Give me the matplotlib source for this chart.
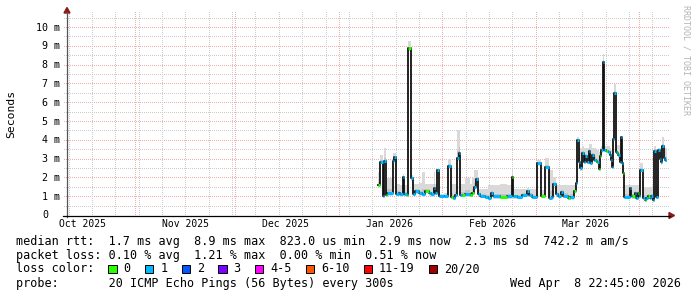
import matplotlib
matplotlib.use('Agg')
import matplotlib.pyplot as plt
import numpy as np
from datetime import date, timedelta
from matplotlib.transforms import Affine2D
from matplotlib.patches import Rectangle, Polygon
from matplotlib.lines import Line2D
from matplotlib.colors import to_rgba

W, H = 697, 297
REF = date(2026, 1, 1)          # day 0 of the x data
X_START, X_END = -81.7, 98.3    # visible range, days relative to REF
DATA_END = 98.3
Y_MAX = 10.64                   # ms

# ---- data (days since 2026-01-01, median rtt in ms, lost pings, smoke top in ms)
day = [11.6, 12.3, 13.1, 13.5, 13.9, 14.4, 16.0, 16.4, 17.0, 17.8, 18.3, 19.0, 19.4, 20.2,
       20.6, 21.4, 22.0, 22.8, 23.8, 24.8, 25.8, 26.8, 27.6, 28.3, 28.8, 29.4, 30.0, 31.3,
       32.6, 33.4, 34.2, 34.8, 35.4, 36.0, 36.3, 36.8, 37.8, 39.3, 39.7, 40.4, 40.9, 41.7,
       42.2, 43.7, 44.7, 45.4, 46.2, 48.2, 50.2, 51.7, 52.2, 53.2, 54.7, 56.2, 57.0, 57.7,
       59.2, 60.5, 61.7, 62.8, 63.7, 64.2, 65.0, 65.7, 66.4, 67.2, 68.7, 69.1, 70.4, 71.1,
       71.4, 71.9, 72.3, 72.9, 73.4, 73.8, 74.3, 74.8, 75.3, 75.8, 76.3, 76.9, 77.4, 77.8,
       78.3, 78.6, 79.0, 79.4, 80.1, 80.6, 81.1, 81.4, 81.7, 82.0, 82.3, 82.9, 83.2, 83.6,
       84.1, 84.6, 84.8, 85.1, 85.3, 87.1, 87.4, 87.8, 88.6, 89.1, 89.6, 89.9, 90.3, 91.1,
       91.6, 92.1, 92.6, 93.1, 93.6, 94.1, 94.4, 95.1, 95.6, 96.2, 96.6, 96.9, 97.4, 97.8]
median_ms = [1.62, 2.86, 1.05, 2.90, 1.10, 1.18, 2.90, 3.11, 1.15, 1.20, 1.12, 2.06, 1.15, 1.10,
             8.89, 1.98, 1.15, 1.28, 1.18, 1.12, 1.30, 1.18, 1.12, 1.45, 1.20, 2.42, 1.05, 1.05,
             2.62, 1.00, 0.92, 1.10, 3.04, 3.31, 1.10, 1.08, 1.12, 1.10, 1.20, 1.53, 1.95, 1.15,
             1.05, 1.00, 0.95, 1.20, 1.02, 0.98, 1.02, 2.06, 1.02, 0.98, 1.10, 1.30, 1.10, 1.00,
             2.78, 1.05, 2.60, 0.93, 1.00, 1.68, 1.15, 1.05, 1.25, 1.05, 0.95, 0.97, 1.30, 1.75,
             4.02, 2.86, 2.51, 3.31, 2.84, 3.15, 2.84, 3.42, 2.80, 3.20, 2.95, 2.92, 2.87, 2.50,
             3.17, 3.47, 8.15, 3.50, 3.45, 3.40, 3.20, 2.95, 2.60, 4.05, 6.53, 3.40, 3.30, 3.20,
             2.84, 4.16, 2.78, 2.25, 1.00, 1.45, 1.05, 1.02, 1.18, 0.95, 1.20, 1.02, 2.42, 0.95,
             0.85, 0.95, 1.02, 0.95, 1.02, 0.85, 3.45, 1.00, 3.50, 3.00, 2.82, 3.70, 3.05, 2.95]
loss = [0, 1, 1, 1, 0, 1, 1, 1, 1, 1, 1, 1, 1, 0,
        0, 1, 1, 1, 1, 1, 0, 1, 1, 1, 1, 1, 1, 1,
        1, 0, 1, 1, 1, 1, 1, 0, 1, 0, 0, 1, 1, 1,
        1, 1, 1, 1, 1, 0, 1, 0, 1, 1, 1, 1, 1, 1,
        1, 0, 1, 1, 1, 1, 1, 1, 1, 1, 0, 1, 0, 1,
        1, 1, 1, 1, 1, 1, 1, 1, 1, 1, 1, 0, 1, 0,
        0, 1, 1, 1, 0, 1, 1, 1, 1, 1, 1, 1, 0, 1,
        1, 1, 1, 0, 1, 1, 1, 0, 1, 1, 0, 1, 1, 1,
        0, 1, 0, 1, 1, 1, 1, 1, 1, 1, 1, 1, 1, 1]
smoke_hi_ms = [2.3, 3.2, 2.5, 3.6, 2.0, 2.0, 3.3, 3.35, 1.7, 1.7, 1.6, 2.2, 1.6, 1.6,
               9.28, 2.15, 1.7, 1.7, 1.75, 2.3, 1.7, 1.7, 1.7, 2.3, 1.7, 2.5, 1.15, 1.2,
               3.0, 1.7, 1.7, 1.7, 4.55, 4.55, 1.7, 1.7, 2.0, 1.7, 2.0, 2.4, 2.4, 1.4,
               1.4, 1.4, 1.6, 1.6, 1.6, 1.7, 1.6, 2.45, 1.4, 1.4, 1.4, 1.45, 1.4, 1.4,
               2.95, 1.35, 3.05, 2.4, 2.4, 2.05, 1.6, 1.6, 1.6, 1.6, 1.6, 1.6, 1.6, 1.9,
               4.2, 3.7, 3.6, 3.7, 3.6, 3.6, 3.6, 3.8, 3.8, 3.6, 3.6, 3.5, 3.5, 3.4,
               3.6, 3.7, 8.6, 3.7, 3.7, 3.7, 3.6, 3.5, 3.5, 4.3, 6.98, 3.75, 3.75, 3.75,
               3.6, 4.2, 3.4, 2.8, 1.6, 1.6, 1.6, 1.6, 1.6, 1.6, 1.6, 1.6, 2.8, 1.5,
               1.5, 1.5, 1.5, 1.5, 1.5, 1.5, 3.7, 1.6, 3.6, 3.6, 3.6, 4.2, 3.6, 3.6]

loss_labels = ['0', '1', '2', '3', '4-5', '6-10', '11-19', '20/20']
loss_colors = ['#26ff00', '#00b8ff', '#0059ff', '#7e00ff', '#ff00ff', '#ff5500', '#ff0000', '#a00000']

y_ticks = [0, 1, 2, 3, 4, 5, 6, 7, 8, 9, 10]
y_tick_labels = ['0', '1 m', '2 m', '3 m', '4 m', '5 m', '6 m', '7 m', '8 m', '9 m', '10 m']
month_starts = [date(2025, 10, 1), date(2025, 11, 1), date(2025, 12, 1), date(2026, 1, 1),
                date(2026, 2, 1), date(2026, 3, 1), date(2026, 4, 1)]
month_labels = ['Oct 2025', 'Nov 2025', 'Dec 2025', 'Jan 2026', 'Feb 2026', 'Mar 2026', 'Apr 2026']

stats_line = "median rtt:  1.7 ms avg  8.9 ms max  823.0 us min  2.9 ms now  2.3 ms sd  742.2 m am/s"
loss_line = "packet loss: 0.10 % avg  1.21 % max  0.00 % min  0.51 % now"
loss_title = "loss color:"
probe_line = "probe:       20 ICMP Echo Pings (56 Bytes) every 300s"
date_line = "Wed Apr  8 22:45:00 2026"
y_title = "Seconds"
watermark = "RRDTOOL / TOBI OETIKER"

# ---- figure
MONO = 'DejaVu Sans Mono'
fig = plt.figure(figsize=(W / 100, H / 100), dpi=100)
pix = Affine2D().scale(1 / W, -1 / H).translate(0, 1) + fig.transFigure

L, R, T, B = 67, 667, 15.5, 215.5
ax = fig.add_axes([L / W, (H - B) / H, (R - L) / W, (B - T) / H])
ax.set_xlim(X_START, X_END)
ax.set_ylim(0, Y_MAX)
ax.axis('off')

px_x = (X_END - X_START) / (R - L)   # days per px
px_y = Y_MAX / (B - T)               # ms per px

# ---- dotted grid, rendered pixel-exact as an overlay image
MINOR = to_rgba('#cdcdcd')
MAJOR = to_rgba('#f2acac')
grid = np.zeros((H, W, 4))


def hrow(v):
    _, yd = ax.transData.transform((0, v))
    return int(round(H - yd - 0.5))


def vcol(xv):
    xd, _ = ax.transData.transform((xv, 0))
    return int(round(xd - 0.5))


def hline(v, c):
    r = hrow(v)
    if 0 <= r < H:
        grid[r, L - 3:R + 3:2] = c


def vline(xv, c):
    cc = vcol(xv)
    if 0 <= cc < W:
        grid[int(T) - 3:int(B) + 3:2, cc] = c


for k in range(1, 22):
    v = k * 0.5
    if v > Y_MAX:
        break
    hline(v, MAJOR if k % 2 == 0 else MINOR)
d = date(2025, 10, 5)
while (d - REF).days <= X_END:
    xv = (d - REF).days
    if xv >= X_START:
        vline(xv, MINOR)
    d += timedelta(days=7)
for ms_, lab in zip(month_starts, month_labels):
    xv = (ms_ - REF).days
    if X_START <= xv <= X_END:
        vline(xv, MAJOR)
    xl = xv + 15
    if X_START <= xl <= X_END:
        ax.text(xl, -8.5 * px_y, lab, ha='center', va='center', fontsize=7,
                family=MONO, clip_on=False)
fig.figimage(grid, xo=0, yo=0, origin='upper', zorder=-1)

# y tick labels (right edge at px 60, padded like rrdtool)
for v, lab in zip(y_ticks, y_tick_labels):
    s = lab.ljust(3)
    cw = 7.2 * 100 / 72 * 0.602
    fig.text((60 - len(s) * cw) / W, 1 - (B - v / px_y) / H, lab, ha='left',
             va='center', fontsize=7.2, family=MONO)

# ---- data
x = np.array(day)
m = np.array(median_ms)
hi = np.array(smoke_hi_ms)
xs = np.append(x, DATA_END)
ms = np.append(m, m[-1])
his = np.append(hi, hi[-1])
ax.fill_between(xs, ms - 0.12, his, step='post', color='#d9d9d9', lw=0, zorder=2)
ax.fill_between(xs, ms - 0.06, ms + 0.25 * (his - ms), step='post', color='#c2c2c2',
                lw=0, zorder=2)
ax.step(xs, ms, where='post', color='#111111', lw=1.3, zorder=3)
for i in range(len(x)):
    ax.plot([xs[i], xs[i + 1]], [m[i], m[i]], color=loss_colors[loss[i]], lw=2.2,
            solid_capstyle='butt', zorder=4)

# ---- axes lines and arrows
fig.add_artist(Line2D([L, L], [B + 1, 12], color='#555555', lw=0.9, transform=pix))
fig.add_artist(Line2D([L - 4, 670], [B, B], color='#000000', lw=0.9, transform=pix))
fig.add_artist(Polygon([[L - 3, 13], [L + 3, 13], [L, 7.5]], closed=True, color='#8b1a1a',
                       transform=pix))
fig.add_artist(Polygon([[669, B - 3], [669, B + 3], [674.5, B]], closed=True,
                       color='#8b1a1a', transform=pix))

# ---- texts
fig.text(11 / W, 1 - 114 / H, y_title, rotation=90, ha='center', va='center',
         fontsize=8.2, family=MONO)
fig.text(686 / W, 1 - 5 / H, watermark, rotation=270, ha='center', va='top',
         fontsize=6.0, family=MONO, color='#b4b4b4')

FS = 8.5
CW = FS * 100 / 72 * 0.602
X0 = 16
rows = [241, 255, 269, 284]
fig.text(X0 / W, 1 - rows[0] / H, stats_line, ha='left', va='center', fontsize=FS, family=MONO)
fig.text(X0 / W, 1 - rows[1] / H, loss_line, ha='left', va='center', fontsize=FS, family=MONO)
fig.text(X0 / W, 1 - rows[2] / H, loss_title, ha='left', va='center', fontsize=FS, family=MONO)
fig.text(X0 / W, 1 - rows[3] / H, probe_line, ha='left', va='center', fontsize=FS, family=MONO)
fig.text(681 / W, 1 - rows[3] / H, date_line, ha='right', va='center', fontsize=FS, family=MONO)

col = 13.0
for lab, c in zip(loss_labels, loss_colors):
    bx = X0 + col * CW
    fig.add_artist(Rectangle((bx, rows[2] - 4.5), 8.5, 8.5, facecolor=c, edgecolor='#000000',
                             lw=0.7, transform=pix))
    tcol = col + 2.15
    fig.text((X0 + tcol * CW) / W, 1 - rows[2] / H, lab, ha='left', va='center',
             fontsize=FS, family=MONO)
    col = tcol + len(lab) + 2

fig.savefig('out.png', dpi=100)
